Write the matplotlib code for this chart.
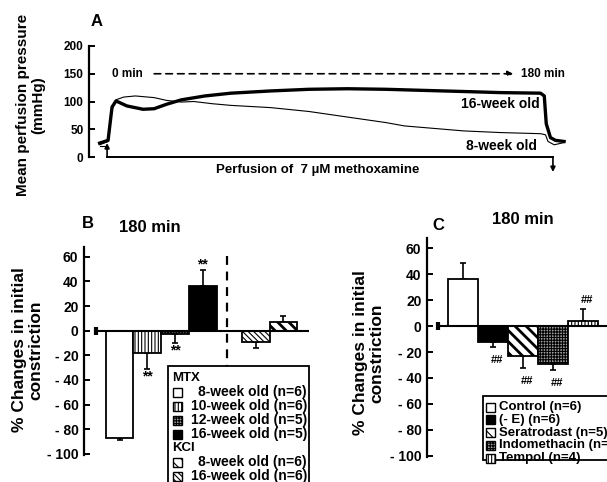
import numpy as np
import matplotlib
matplotlib.use("Agg")
import matplotlib.pyplot as plt
from matplotlib.patches import Rectangle

plt.rcParams['font.family'] = ['Liberation Sans', 'DejaVu Sans']
plt.rcParams['font.weight'] = 'bold'

# ---- panel A: perfusion pressure traces (min, mmHg) ----
t16 = [-3, 0.4, 2, 3.6, 8, 14.5, 19, 24, 30, 39.5, 50, 66, 81.5, 97, 112.6,
       128, 144, 159, 175, 176.5, 177.3, 179, 181, 184.5]
p16 = [25, 30, 90, 101, 92, 86, 87, 95, 103, 110, 115, 119, 122, 123, 122,
       120, 118, 116, 115, 110, 60, 35, 30, 28]
t8 = [-3, 0.4, 2, 3.6, 6.7, 11.4, 19, 24, 30, 35, 42.5, 50, 58, 66, 81.5,
      97, 112.6, 120, 128, 144, 159, 175, 177, 178, 180.5, 184.5]
p8 = [22, 28, 85, 103, 108, 110, 107, 102, 99, 100, 96, 93, 91, 89, 82,
      72, 62, 56, 53, 47, 44, 42, 40, 28, 22, 26]
a_ticks = [0, 50, 100, 150, 200]

# ---- panel B: MTX / KCl at 180 min ----
b_vals = [-87, -18, -3, 36, -9, 7]
b_errs = [2, 13, 7, 13, 5, 5]
b_pos = [0, 1, 2, 3, 4.9, 5.9]
b_face = ['white', 'white', '#a0a0a0', 'black', 'white', 'white']
b_hatch = [None, '|||||', '++++++', None, '\\' * 6, '\\' * 3]
b_stars = ['', '**', '**', '**', '', '']
b_legend = ['MTX', '8-week old (n=6)', '10-week old (n=6)', '12-week old (n=5)',
            '16-week old (n=5)', 'KCl', '8-week old (n=6)', '16-week old (n=6)']

# ---- panel C: treatments at 180 min ----
c_vals = [36, -12, -23, -29, 4]
c_errs = [13, 4, 9, 5, 9]
c_face = ['white', 'black', 'white', '#a0a0a0', 'white']
c_hatch = [None, None, '\\' * 3, '++++++', '|||||']
c_marks = ['', '##', '##', '##', '##']
c_legend = ['Control (n=6)', '(- E) (n=6)', 'Seratrodast (n=5)',
            'Indomethacin (n=5)', 'Tempol (n=4)']

bc_ticks = [60, 40, 20, 0, -20, -40, -60, -80, -100]
bc_labels = ['60', '40', '20', '0', '- 20', '- 40', '- 60', '- 80', '- 100']

W, H = 607, 482
fig = plt.figure(figsize=(W / 100, H / 100), dpi=100)


def rect(x0, y0, x1, y1):
    # pixel box (top-left origin) -> figure fraction
    return [x0 / W, 1 - y1 / H, (x1 - x0) / W, (y1 - y0) / H]


def fx(x):
    return x / W


def fy(y):
    return 1 - y / H


def style_axis(ax, fs):
    for s in ['top', 'right', 'bottom']:
        ax.spines[s].set_visible(False)
    ax.spines['left'].set_linewidth(1.6)
    ax.tick_params(axis='y', direction='in', length=4, width=1.4, labelsize=fs, pad=4)
    ax.set_xticks([])
    for lab in ax.get_yticklabels():
        lab.set_fontweight('bold')


# ---------------- A ----------------
axA = fig.add_axes(rect(89, 46, 600, 157))
axA.set_xlim(-7.3, 199)
axA.set_ylim(0, 200)
axA.set_yticks(a_ticks)
style_axis(axA, 8.5)
axA.spines['left'].set_bounds(0, 200)
axA.plot(t8, p8, color='black', lw=0.8)
axA.plot(t16, p16, color='black', lw=2.4)
axA.plot([-3, 0], [20, 20], color='black', lw=0.8, clip_on=False)
axA.annotate('', xy=(0, 25), xytext=(0, 0),
             arrowprops=dict(arrowstyle='-|>', color='black', lw=1.2,
                             mutation_scale=7, shrinkA=0, shrinkB=0))
axA.plot([0, 180], [0, 0], color='black', lw=1.4, clip_on=False)
axA.annotate('', xy=(180, -27), xytext=(180, 0), annotation_clip=False,
             arrowprops=dict(arrowstyle='-|>', color='black', lw=1.2,
                             mutation_scale=7, shrinkA=0, shrinkB=0))
axA.text(85, -23, 'Perfusion of  7 \u00b5M methoxamine', ha='center', va='center',
         fontsize=9.5, fontweight='bold', clip_on=False)
axA.text(8, 150, '0 min', ha='center', va='center', fontsize=8.5, fontweight='bold')
axA.annotate('', xy=(164, 150), xytext=(19, 150),
             arrowprops=dict(arrowstyle='-|>', color='black', lw=1.2, ls=(0, (4, 3)),
                             mutation_scale=8, shrinkA=0, shrinkB=0))
axA.text(167, 150, '180 min', ha='left', va='center', fontsize=8.5, fontweight='bold')
axA.text(174.6, 96, '16-week old', ha='right', va='center', fontsize=10, fontweight='bold')
axA.text(173.5, 20, '8-week old', ha='right', va='center', fontsize=10, fontweight='bold')
fig.text(fx(97), fy(22), 'A', ha='center', va='center', fontsize=12, fontweight='bold')
fig.text(fx(31), fy(105), 'Mean perfusion pressure\n(mmHg)', rotation=90,
         ha='center', va='center', fontsize=11, fontweight='bold', linespacing=1.1)


def bar_panel(ax, pos, vals, errs, faces, hatches):
    for p, v, e, f, h in zip(pos, vals, errs, faces, hatches):
        lw_h = 2.0 if (h is not None and h.count('\\') == 3) else 0.8
        with plt.rc_context({'hatch.linewidth': lw_h}):
            ax.bar(p, v, width=1.0, color=f, edgecolor='black', hatch=h,
                   linewidth=1.3, zorder=2)
        lo = e if v < 0 else 0
        hi = e if v >= 0 else 0
        ax.errorbar(p, v, yerr=[[lo], [hi]], fmt='none', ecolor='black',
                    elinewidth=1.2, capsize=2.5, capthick=1.2, zorder=1)


# ---------------- B ----------------
axB = fig.add_axes(rect(84, 247, 309, 455))
axB.set_xlim(-1.28, 6.82)
axB.set_ylim(-101, 68)
axB.set_yticks(bc_ticks)
axB.set_yticklabels(bc_labels)
style_axis(axB, 10)
axB.spines['left'].set_bounds(-101, 68)
axB.plot([-0.85, 6.82], [0, 0], color='black', lw=1.5, zorder=3)
axB.plot([-0.85], [0], marker='|', ms=6, mew=3, color='black', zorder=3)
bar_panel(axB, b_pos, b_vals, b_errs, b_face, b_hatch)
axB.plot([3.87, 3.87], [61, -101], color='black', lw=1.6, ls=(0, (4, 3)), zorder=1)
for p, v, e, s in zip(b_pos, b_vals, b_errs, b_stars):
    if s:
        y = v + e + 5 if v > 0 else v - e - 6
        axB.text(p, y, s, ha='center', va='center', fontsize=10, fontweight='bold')
axB.text(1.1, 84, '180 min', ha='center', va='center', fontsize=12,
         fontweight='bold', clip_on=False)
fig.text(fx(88), fy(223), 'B', ha='center', va='center', fontsize=12, fontweight='bold')
fig.text(fx(28), fy(350), '% Changes in initial\nconstriction', rotation=90,
         ha='center', va='center', fontsize=12.5, fontweight='bold', linespacing=1.1)

# legend B
fig.patches.append(Rectangle((fx(168), fy(490)), (309 - 168) / W, (490 - 366) / H,
                             transform=fig.transFigure, facecolor='white',
                             edgecolor='black', lw=1.3, zorder=5))
leg_b_idx = [None, 0, 1, 2, 3, None, 5, 4]
for i, (lab, bi) in enumerate(zip(b_legend, leg_b_idx)):
    y = 378 + i * 14
    if bi is None:
        fig.text(fx(172), fy(y), lab, ha='left', va='center', fontsize=9.5,
                 fontweight='bold', zorder=6)
    else:
        with plt.rc_context({'hatch.linewidth': 0.8}):
            fig.patches.append(Rectangle((fx(173), fy(y + 4.5)), 9 / W, 9 / H,
                                         transform=fig.transFigure,
                                         facecolor=b_face[bi], hatch=b_hatch[bi],
                                         edgecolor='black', lw=1.0, zorder=6))
        fig.text(fx(307), fy(y), lab, ha='right', va='center', fontsize=10,
                 fontweight='bold', zorder=6)

# ---------------- C ----------------
axC = fig.add_axes(rect(427, 238, 607, 457))
c_pos = np.arange(len(c_vals))
axC.set_xlim(-1.2, 4.8)
axC.set_ylim(-101, 68)
axC.set_yticks(bc_ticks)
axC.set_yticklabels(bc_labels)
style_axis(axC, 10)
axC.spines['left'].set_bounds(-101, 68)
axC.plot([-0.83, 4.8], [0, 0], color='black', lw=1.5, zorder=3)
axC.plot([-0.83], [0], marker='|', ms=6, mew=3, color='black', zorder=3)
bar_panel(axC, c_pos, c_vals, c_errs, c_face, c_hatch)
for p, v, e, s in zip(c_pos, c_vals, c_errs, c_marks):
    if s:
        y = v + e + 7 if v > 0 else v - e - 10
        axC.text(p + 0.15, y, s, ha='center', va='center', fontsize=8,
                 fontweight='bold')
axC.text(2.0, 82, '180 min', ha='center', va='center', fontsize=12,
         fontweight='bold', clip_on=False)
fig.text(fx(438), fy(225), 'C', ha='center', va='center', fontsize=12, fontweight='bold')
fig.text(fx(369), fy(353), '% Changes in initial\nconstriction', rotation=90,
         ha='center', va='center', fontsize=12.5, fontweight='bold', linespacing=1.1)

# legend C
fig.patches.append(Rectangle((fx(483), fy(460)), (620 - 483) / W, (460 - 396) / H,
                             transform=fig.transFigure, facecolor='white',
                             edgecolor='black', lw=1.3, zorder=5))
for i, lab in enumerate(c_legend):
    y = 407 + i * 12.8
    with plt.rc_context({'hatch.linewidth': 0.8}):
        fig.patches.append(Rectangle((fx(486), fy(y + 4.5)), 9 / W, 9 / H,
                                     transform=fig.transFigure,
                                     facecolor=c_face[i], hatch=c_hatch[i],
                                     edgecolor='black', lw=1.0, zorder=6))
    fig.text(fx(499), fy(y), lab, ha='left', va='center', fontsize=9.5,
             fontweight='bold', zorder=6)

fig.savefig('out.png', dpi=100)
